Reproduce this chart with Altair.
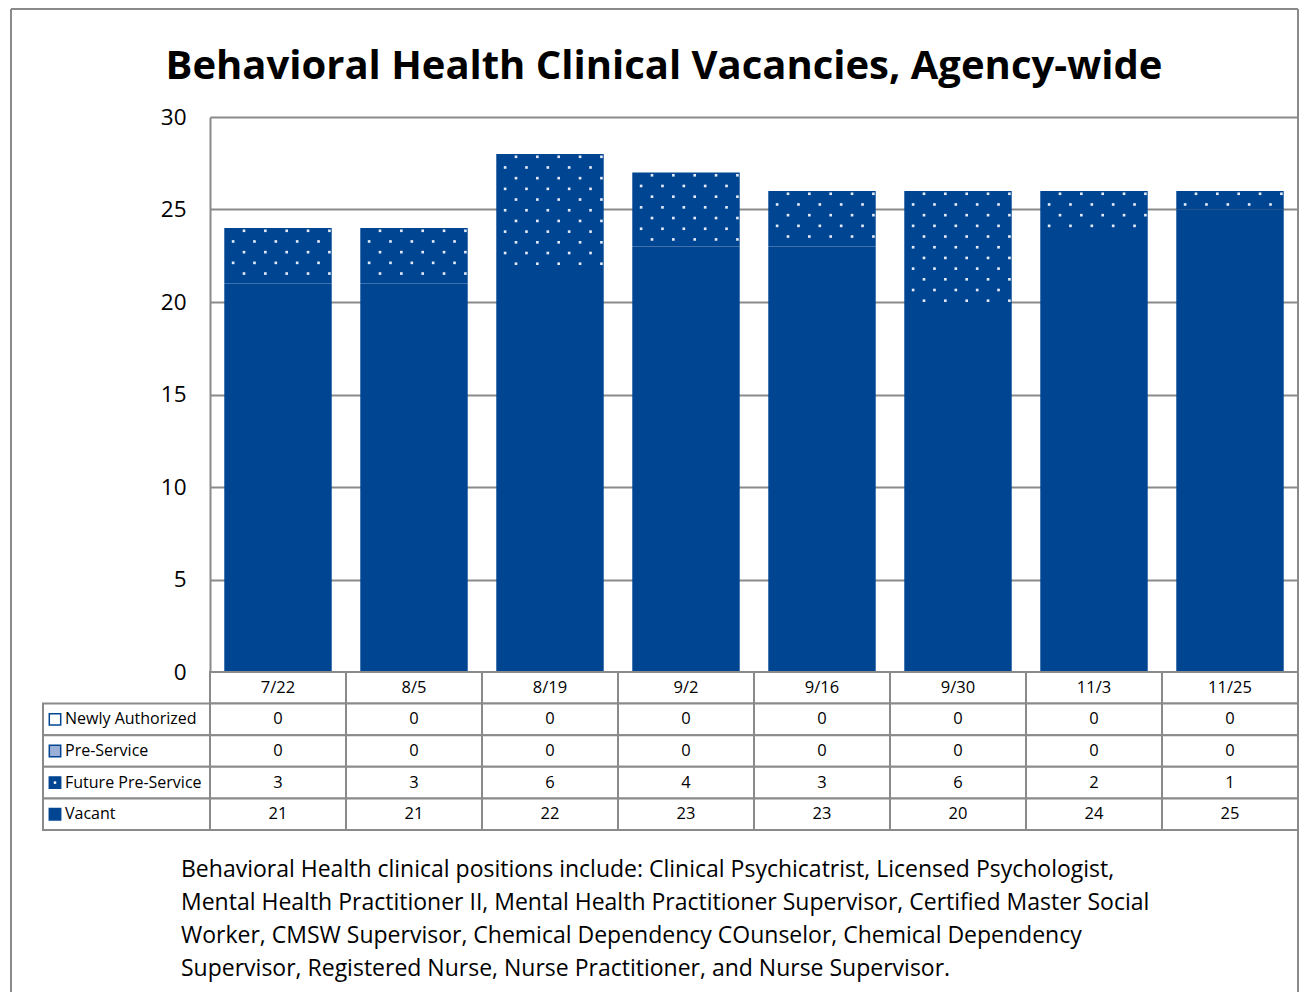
import altair as alt
import pandas as pd

# ---------------- data ----------------
categories = ["7/22", "8/5", "8/19", "9/2", "9/16", "9/30", "11/3", "11/25"]
newly_authorized = [0, 0, 0, 0, 0, 0, 0, 0]
pre_service = [0, 0, 0, 0, 0, 0, 0, 0]
future_pre_service = [3, 3, 6, 4, 3, 6, 2, 1]
vacant = [21, 21, 22, 23, 23, 20, 24, 25]
series_names = ["Newly Authorized", "Pre-Service", "Future Pre-Service", "Vacant"]
y_ticks = [0, 5, 10, 15, 20, 25, 30]
title_text = "Behavioral Health Clinical Vacancies, Agency-wide"
footnote_lines = [
    "Behavioral Health clinical positions include: Clinical Psychicatrist, Licensed Psychologist,",
    "Mental Health Practitioner II, Mental Health Practitioner Supervisor, Certified Master Social",
    "Worker, CMSW Supervisor, Chemical Dependency COunselor, Chemical Dependency",
    "Supervisor, Registered Nurse, Nurse Practitioner, and Nurse Supervisor.",
]

# ---------------- style / layout ----------------
BLUE = "#004592"
GRID = "#8a8a8a"
FONT = "Open Sans"
W, H = 1088, 555          # plot area
TH = 158                  # data-table height below the plot
PAD = {"left": 202, "top": 109, "right": 2, "bottom": 320}

series_values = {
    "Newly Authorized": newly_authorized,
    "Pre-Service": pre_service,
    "Future Pre-Service": future_pre_service,
    "Vacant": vacant,
}

bar_rows = []
for i, c in enumerate(categories):
    for k, name in enumerate(series_names):
        bar_rows.append({"cat": c, "series": name, "value": series_values[name][i], "order": 3 - k})
bar_df = pd.DataFrame(bar_rows)

# white-dot texture for the Future Pre-Service segment (derived from the data)
dot_rows = []
for i, c in enumerate(categories):
    top = vacant[i] + future_pre_service[i]
    k = 0
    while True:
        yv = top - 0.15 - 0.578 * k
        if yv <= vacant[i] + 0.05:
            break
        start = 0.25 if k % 2 == 0 else 0.17
        for j in range(5):
            dot_rows.append({"xpos": i + start + 0.157 * j, "yv": yv})
        k += 1
dot_df = pd.DataFrame(dot_rows)

one = pd.DataFrame({"a": [0]})

y_axis = alt.Axis(values=y_ticks, grid=True, gridColor=GRID, gridWidth=2,
                  domainColor=GRID, domainWidth=2, ticks=False,
                  labelFontSize=22.5, labelFont=FONT, labelColor="black",
                  labelPadding=24, title=None)
y_scale = alt.Scale(domain=[0, 30], nice=False)
x_band = alt.Scale(domain=categories, paddingInner=0, paddingOuter=0)

bars = alt.Chart(bar_df).mark_bar(width=alt.RelativeBandSize(0.79)).encode(
    x=alt.X("cat:N", sort=categories, scale=x_band, axis=None),
    y=alt.Y("value:Q", stack="zero", scale=y_scale, axis=y_axis),
    color=alt.Color("series:N", scale=alt.Scale(domain=series_names, range=[BLUE] * 4), legend=None),
    order=alt.Order("order:Q"),
)

dots = alt.Chart(dot_df).mark_square(size=7, color="#e4ebf6", opacity=1).encode(
    x=alt.X("xpos:Q", scale=alt.Scale(domain=[0, 8], nice=False, zero=False), axis=None),
    y=alt.Y("yv:Q", scale=y_scale, axis=None),
)

title = alt.Chart(one).mark_text(text=title_text, font=FONT, fontSize=40, fontWeight="bold",
                                 align="center", baseline="middle", color="black").encode(
    x=alt.value(454), y=alt.value(-50))

frame_left = alt.Chart(one).mark_rule(color=GRID, strokeWidth=2).encode(
    x=alt.value(-199), y=alt.value(-108), y2=alt.value(880))
frame_right = alt.Chart(one).mark_rule(color=GRID, strokeWidth=2).encode(
    x=alt.value(W), y=alt.value(-108), y2=alt.value(880))
frame_top = alt.Chart(one).mark_rule(color=GRID, strokeWidth=2).encode(
    x=alt.value(-199), x2=alt.value(W), y=alt.value(-108))

# ---------------- data table (below the plot, on its own y scale) ----------------
cell_rows = []
for i, c in enumerate(categories):
    cell_rows.append({"cat": c, "r": 0, "r2": 1, "rc": 0.5, "label": c})
    for k, name in enumerate(series_names):
        cell_rows.append({"cat": c, "r": k + 1, "r2": k + 2, "rc": k + 1.5,
                          "label": str(series_values[name][i])})
cell_df = pd.DataFrame(cell_rows)

label_df = pd.DataFrame({
    "name": series_names,
    "r": [1, 2, 3, 4],
    "r2": [2, 3, 4, 5],
    "rc": [1.5, 2.5, 3.5, 4.5],
})

t_scale = alt.Scale(domain=[0, 5], range=[H, H + TH], nice=False, zero=False)
x_tab = alt.X("cat:N", sort=categories, scale=x_band, axis=None)

cells = alt.Chart(cell_df).mark_rect(fill="white", stroke=GRID, strokeWidth=2).encode(
    x=x_tab, y=alt.Y("r:Q", scale=t_scale, axis=None), y2="r2:Q")
cell_text = alt.Chart(cell_df).mark_text(font=FONT, fontSize=16.5, color="black").encode(
    x=x_tab, y=alt.Y("rc:Q", scale=t_scale, axis=None), text="label:N")

left_cells = alt.Chart(label_df).mark_rect(fill="white", stroke=GRID, strokeWidth=2).encode(
    x=alt.value(-167), x2=alt.value(0), y=alt.Y("r:Q", scale=t_scale, axis=None), y2="r2:Q")
left_text = alt.Chart(label_df).mark_text(font=FONT, fontSize=16, color="black", align="left").encode(
    x=alt.value(-145), y=alt.Y("rc:Q", scale=t_scale, axis=None), text="name:N")
keys = alt.Chart(label_df).mark_square(size=130, stroke=BLUE, strokeWidth=1.5, opacity=1).encode(
    x=alt.value(-155), y=alt.Y("rc:Q", scale=t_scale, axis=None),
    fill=alt.Fill("name:N", scale=alt.Scale(domain=series_names,
                                             range=["white", "#9bb0d6", BLUE, BLUE]), legend=None))
key_dot = alt.Chart(label_df).transform_filter(alt.datum.name == "Future Pre-Service").mark_square(
    size=6, color="white", opacity=1).encode(
    x=alt.value(-155), y=alt.Y("rc:Q", scale=t_scale, axis=None))

foot_layers = [
    alt.Chart(one).mark_text(text=line, font=FONT, fontSize=23, color="black",
                             align="left", baseline="middle").encode(
        x=alt.value(-29), y=alt.value(753 + 33 * i))
    for i, line in enumerate(footnote_lines)
]

chart = alt.layer(
    bars, dots, cells, cell_text, left_cells, left_text, keys, key_dot,
    title, frame_left, frame_right, frame_top, *foot_layers
).resolve_scale(x="independent", y="independent").properties(
    width=W, height=H,
    autosize=alt.AutoSizeParams(type="none"),
    padding=PAD,
).configure_view(stroke="transparent")

chart.save("out.html", embed_options={"renderer": "svg", "actions": False})
